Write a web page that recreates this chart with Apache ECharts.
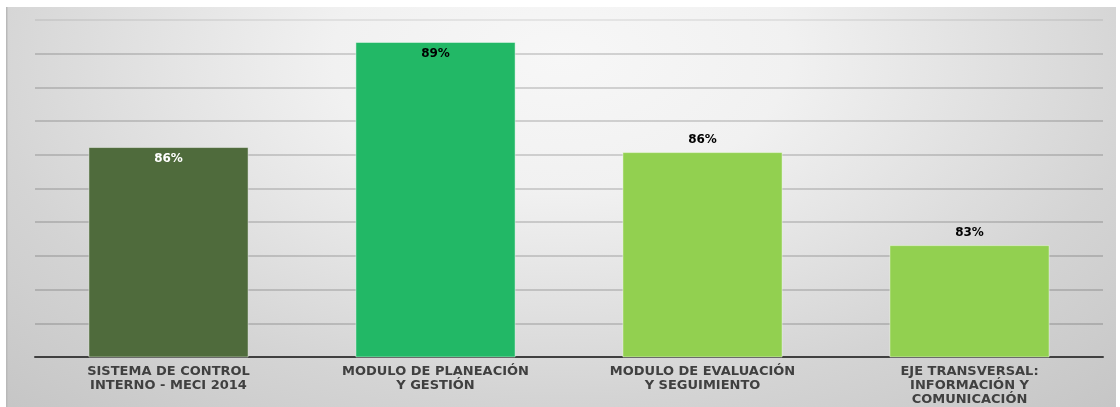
<!DOCTYPE html>
<html>
<head>
<meta charset="utf-8">
<script src="https://cdn.jsdelivr.net/npm/echarts@6/dist/echarts.min.js"></script>
<style>
html,body{margin:0;padding:0;background:#ffffff;}
#chart{width:1120px;height:407px;}
</style>
</head>
<body>
<div id="chart"></div>
<script>
const categories = [
  'SISTEMA DE CONTROL\nINTERNO - MECI 2014',
  'MODULO DE PLANEACIÓN\nY GESTIÓN',
  'MODULO DE EVALUACIÓN\nY SEGUIMIENTO',
  'EJE TRANSVERSAL:\nINFORMACIÓN Y\nCOMUNICACIÓN'
];
const values = [86.23, 89.35, 86.08, 83.32];
const barColors = ['#4f6b3c', '#22b866', '#92d050', '#92d050'];
const labelPositions = ['insideTop', 'insideTop', 'top', 'top'];
const labelColors = ['#ffffff', '#000000', '#000000', '#000000'];
const yMin = 80, yMax = 90, yStep = 1;

const chart = echarts.init(document.getElementById('chart'));
const bgW = 1110, bgH = 400, sY = 0.585;
const gridColors = [];
for (let v = yMin; v <= yMax; v += yStep) {
  gridColors.push(v === yMax ? 'rgba(0,0,0,0.09)' : 'rgba(0,0,0,0.2)');
}
const option = {
  backgroundColor: '#ffffff',
  animation: false,
  graphic: [{
    type: 'rect',
    left: 6, top: 7, z: -10, silent: true,
    scaleY: sY,
    shape: { x: 0, y: 0, width: bgW, height: bgH / sY },
    style: {
      fill: {
        type: 'radial', x: 0.5, y: 0.124, r: 1.235,
        colorStops: [
          { offset: 0, color: '#f7f7f7' },
          { offset: 0.27, color: '#f1f1f1' },
          { offset: 0.46, color: '#e4e4e4' },
          { offset: 0.69, color: '#d4d4d4' },
          { offset: 1, color: '#c4c4c4' }
        ]
      }
    }
  }, {
    type: 'rect',
    left: 6, top: 7, z: -9, silent: true,
    shape: { width: 1.5, height: bgH },
    style: { fill: '#b9b9b9' }
  }],
  grid: { left: 35, right: 17, top: 20, bottom: 50, containLabel: false },
  xAxis: {
    type: 'category',
    data: categories,
    axisLine: { lineStyle: { color: '#404040', width: 2 } },
    axisTick: { show: false },
    axisLabel: {
      interval: 0,
      margin: 8,
      color: '#404040',
      fontFamily: 'DejaVu Sans',
      fontWeight: 'bold',
      fontSize: 13,
      lineHeight: 14,
      align: 'center'
    }
  },
  yAxis: {
    type: 'value',
    min: yMin, max: yMax, interval: yStep,
    axisLabel: { show: false },
    axisLine: { show: false },
    axisTick: { show: false },
    splitLine: { lineStyle: { color: gridColors, width: 1.5 } }
  },
  series: [{
    type: 'bar',
    barCategoryGap: '40%',
    data: values.map((v, i) => ({
      value: v,
      itemStyle: { color: barColors[i], borderColor: 'rgba(255,255,255,0.45)', borderWidth: 1 },
      label: { position: labelPositions[i], color: labelColors[i] }
    })),
    label: {
      show: true,
      distance: 6,
      fontFamily: 'DejaVu Sans',
      fontWeight: 'bold',
      fontSize: 12,
      formatter: p => Math.round(p.value) + '%'
    }
  }]
};
chart.setOption(option);
</script>
</body>
</html>
